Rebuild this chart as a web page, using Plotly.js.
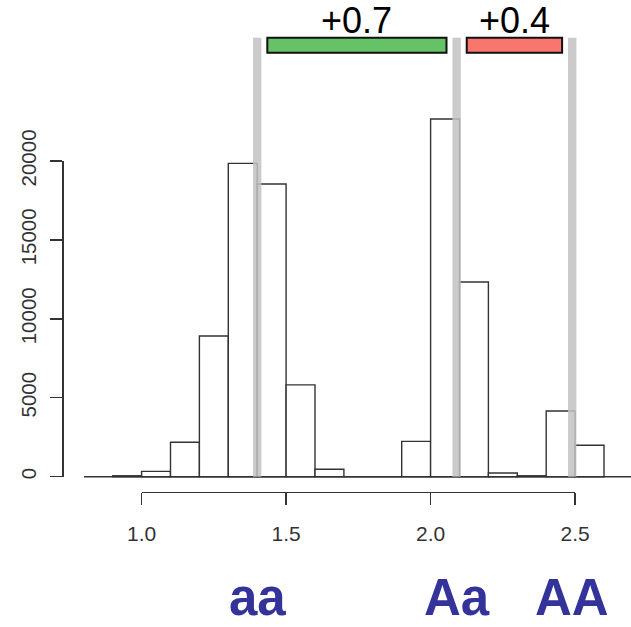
<!DOCTYPE html>
<html>
<head>
<meta charset="utf-8">
<script src="https://cdn.plot.ly/plotly-3.0.1.min.js"></script>
<style>html,body{margin:0;padding:0;background:#fff;}#chart{width:631px;height:627px;}</style>
</head>
<body>
<div id="chart"></div>
<script>
// ---- data ----
const binCenters = [0.95, 1.05, 1.15, 1.25, 1.35, 1.45, 1.55, 1.65, 1.75, 1.85, 1.95, 2.05, 2.15, 2.25, 2.35, 2.45, 2.55];
const counts     = [60, 340, 2180, 8910, 19850, 18540, 5820, 470, 0, 0, 2240, 22660, 12330, 230, 60, 4160, 1990];
const genotypeMeans  = [1.40, 2.09, 2.49];
const genotypeLabels = ['aa', 'Aa', 'AA'];
const effectLabels   = ['+0.7', '+0.4'];
const xTickVals   = [1.0, 1.5, 2.0, 2.5];
const xTickText   = ['1.0', '1.5', '2.0', '2.5'];
const yTickVals   = [0, 5000, 10000, 15000, 20000];
const yTickText   = ['0', '5000', '10000', '15000', '20000'];

// ---- geometry / style ----
const W = 631, H = 627;
const pxPerX = 289, x1px = 141.6;          // x=1.0 at 141.6px
const pxPerY = 315.7 / 20000, y0px = 476.7; // y=0 at 476.7px
const xr = [1 - x1px / pxPerX, 1 + (W - x1px) / pxPerX];
const yr = [-(H - y0px) / pxPerY, y0px / pxPerY];
const ink = '#333333';
const font = '"Liberation Sans", Arial, Helvetica, sans-serif';
const effectColors = ['#66C266', '#F8766D'];
const grayTop = (y0px - 37.7) / pxPerY;
const barTop = (y0px - 37.7) / pxPerY, barBot = (y0px - 52.7) / pxPerY;

const traces = [
  {type: 'bar', x: binCenters, y: counts, width: 0.1, xaxis: 'x', yaxis: 'y',
   marker: {color: '#ffffff', line: {color: ink, width: 1.4}}, hoverinfo: 'x+y'},
  {type: 'scatter', mode: 'markers', x: [1, 2.5], y: [0, 0], xaxis: 'x2', yaxis: 'y',
   marker: {opacity: 0}, hoverinfo: 'skip', showlegend: false},
  {type: 'scatter', mode: 'markers', x: [1, 1], y: [0, 20000], xaxis: 'x', yaxis: 'y2',
   marker: {opacity: 0}, hoverinfo: 'skip', showlegend: false}
];

const shapes = [];
// baseline
shapes.push({type: 'line', xref: 'x', yref: 'y', x0: 1 - (x1px - 84) / pxPerX, x1: xr[1], y0: 0, y1: 0,
  line: {color: ink, width: 1.4}, layer: 'above'});
// gray genotype lines
genotypeMeans.forEach(m => {
  shapes.push({type: 'rect', xref: 'x', yref: 'y', x0: m - 0.0145, x1: m + 0.0145, y0: 0, y1: grayTop,
    fillcolor: '#c2c2c2', opacity: 0.85, line: {width: 0}, layer: 'above'});
});
// effect bars
effectLabels.forEach((t, i) => {
  shapes.push({type: 'rect', xref: 'x', yref: 'y', x0: genotypeMeans[i] + 0.035, x1: genotypeMeans[i + 1] - 0.035,
    y0: barBot, y1: barTop, fillcolor: effectColors[i], line: {color: '#111', width: 2}, layer: 'above'});
});

const annotations = [];
effectLabels.forEach((t, i) => {
  annotations.push({text: t, xref: 'x', yref: 'paper', x: (genotypeMeans[i] + genotypeMeans[i + 1]) / 2,
    y: 1 - 20 / H, xanchor: 'center', yanchor: 'middle', showarrow: false, borderpad: 0,
    font: {family: font, size: 36, color: '#000'}});
});
genotypeLabels.forEach((t, i) => {
  annotations.push({text: '<b>' + t + '</b>', xref: 'x', yref: 'paper', x: genotypeMeans[i],
    y: 0, xanchor: 'center', yanchor: 'bottom', showarrow: false, borderpad: 0,
    font: {family: font, size: 51, color: '#333399'}});
});

const layout = {
  width: W, height: H, margin: {l: 0, r: 0, t: 0, b: 0, pad: 0},
  paper_bgcolor: '#ffffff', plot_bgcolor: 'rgba(0,0,0,0)',
  showlegend: false, bargap: 0,
  xaxis: {range: xr, domain: [0, 1], visible: false, fixedrange: true},
  yaxis: {range: yr, domain: [0, 1], visible: false, fixedrange: true},
  xaxis2: {range: [1, 2.5], domain: [x1px / W, (x1px + 1.5 * pxPerX) / W], anchor: 'free', position: 1 - 492 / H,
    showline: true, linecolor: ink, linewidth: 1.4, ticks: 'outside', ticklen: 12, tickwidth: 1.4, tickcolor: ink,
    tickvals: xTickVals, ticktext: xTickText, showgrid: false, zeroline: false, ticklabelstandoff: 10,
    tickfont: {family: font, size: 21, color: ink}},
  yaxis2: {range: [0, 20000], domain: [1 - y0px / H, 1 - (y0px - 20000 * pxPerY) / H], anchor: 'free',
    position: 62.3 / W, side: 'left',
    showline: true, linecolor: ink, linewidth: 1.4, ticks: 'outside', ticklen: 12, tickwidth: 1.4, tickcolor: ink,
    tickvals: yTickVals, ticktext: yTickText, tickangle: -90, showgrid: false, zeroline: false, ticklabelstandoff: 6,
    tickfont: {family: font, size: 20.5, color: ink}},
  shapes: shapes,
  annotations: annotations
};

Plotly.newPlot('chart', traces, layout, {displayModeBar: false, staticPlot: true});
</script>
</body>
</html>
